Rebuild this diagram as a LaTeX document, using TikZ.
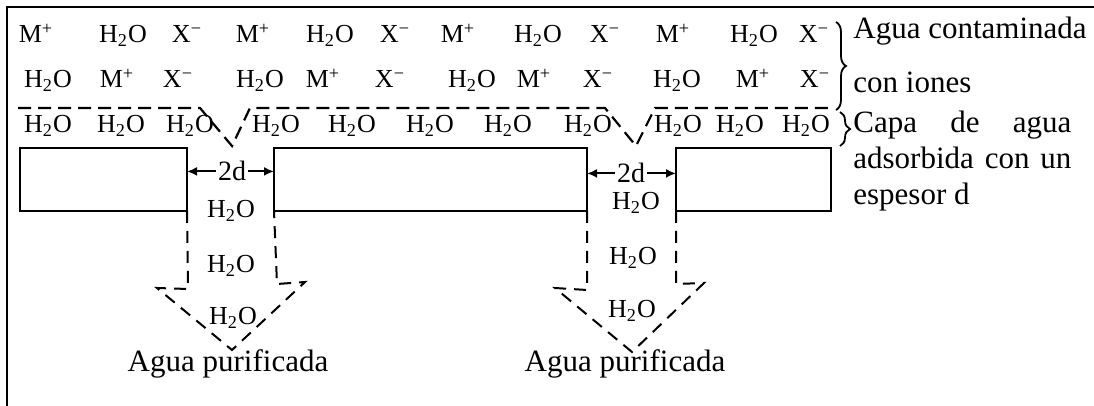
\documentclass[tikz,border=0pt]{standalone}
\usepackage{fontspec}
\setmainfont{Liberation Serif}
\usetikzlibrary{arrows.meta,positioning,calc,decorations.pathreplacing}
\newcommand{\Mion}{M\textsuperscript{+}}
\newcommand{\Xion}{X\textsuperscript{−}}
\newcommand{\Hwat}{H\textsubscript{2}O}

\begin{document}
\begin{tikzpicture}[x=0.5pt,y=-0.5pt,
    ion/.style={inner sep=0pt,anchor=base,font=\fontsize{13}{15}\selectfont},
    lbl/.style={inner sep=0pt,font=\fontsize{15.5}{18}\selectfont},
    wall/.style={rectangle,draw,line width=1pt,inner sep=0pt,outer sep=0pt,minimum height=31.5pt},
    bnd/.style={dash pattern=on 6.5pt off 3.5pt,line width=1.1pt},
    flow/.style={dash pattern=on 6pt off 4pt,line width=1pt},
    arr/.style={-{Latex[length=5pt,width=4.5pt]},line width=1pt},
    brc/.style={decorate,decoration={brace,amplitude=5pt},line width=0.9pt},
]
\useasboundingbox (0,0) rectangle (1094,406);
% Frame
\draw[line width=0.7pt] (7,406) -- (7,7) -- (1094,7);

% Contaminated water
\foreach \x/\t [count=\i] in {36/\Mion,123/\Hwat,187/\Xion,253/\Mion,330/\Hwat,395/\Xion,458/\Mion,538/\Hwat,605/\Xion,673/\Mion,754/\Hwat,814/\Xion}
  \node[ion] (a\i) at (\x,43) {\t};
\foreach \x/\t [count=\i] in {48/\Hwat,117/\Mion,178/\Xion,260/\Hwat,323/\Mion,390/\Xion,472/\Hwat,534/\Mion,598/\Xion,677/\Hwat,753/\Mion,815/\Xion}
  \node[ion] (b\i) at (\x,88) {\t};

% Adsorbed layer
\foreach \x [count=\i] in {48,121,190,276,352,430,508,588,678,740,806}
  \node[ion] (c\i) at (\x,133) {\Hwat};
\draw[bnd] (18,108) -- (200,108) -- (232,146) -- (250,108) -- (605,108) -- (636,146) -- (655,108) -- (830,108);

% Membrane
\node[wall,minimum width=83.5pt] (r1) at (103.5,179.5) {};
\node[wall,minimum width=156.5pt] (r2) at (430.5,179.5) {};
\node[wall,minimum width=77.5pt] (r3) at (753.5,179.5) {};

% Pore 1
\node[ion,font=\fontsize{14}{16}\selectfont,inner xsep=1pt] (w1) at (232,181) {2d};
\draw[arr] (w1.west) -- (w1.west -| r1.east);
\draw[arr] (w1.east) -- (w1.east -| r2.west);
\node[ion] (p1a) at (231,218) {\Hwat};
\node[ion] (p1b) at (231,273) {\Hwat};
\node[ion] (p1c) at (233,325) {\Hwat};
\draw[flow] (r1.south east) -- (188,289) -- (157,288) -- (232,350) -- (305,282) -- (277,284) -- (r2.south west);
\node[lbl,anchor=base] (out1) at (228,372) {Agua purificada};

% Pore 2
\node[ion,font=\fontsize{14}{16}\selectfont,inner xsep=1pt] (w2) at (631,183) {2d};
\draw[arr] (w2.west) -- (w2.west -| r2.east);
\draw[arr] (w2.east) -- (w2.east -| r3.west);
\node[ion] (p2a) at (636,210) {\Hwat};
\node[ion] (p2b) at (633,265) {\Hwat};
\node[ion] (p2c) at (632,318) {\Hwat};
\draw[flow] (r2.south east) -- (587,290) -- (555,288) -- (632,352) -- (704,283) -- (676,284) -- (r3.south west);
\node[lbl,anchor=base] (out2) at (625,372) {Agua purificada};

% Legend
\draw[brc] (836,22) -- (836,110);
\node[lbl,anchor=north west,align=left,font=\fontsize{15.5}{27}\selectfont] (t1) at (853,17) {Agua contaminada\\con iones};
\draw[brc] (840,112) -- (840,146);
\node[lbl,anchor=north west,align=left] (t2) at (853,111) {\makebox[109pt][s]{Capa de agua}\\\makebox[109pt][s]{adsorbida con un}\\espesor d};
\end{tikzpicture}
\end{document}
